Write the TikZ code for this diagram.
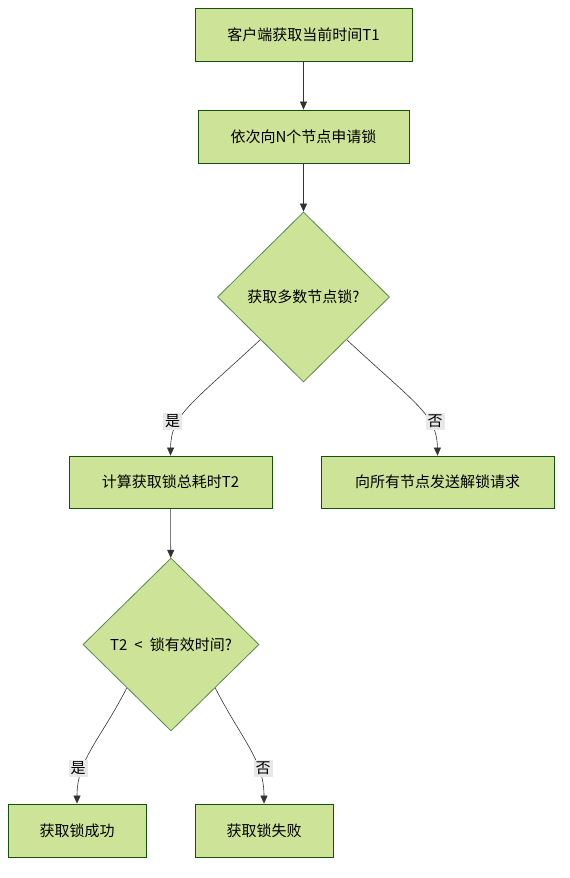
\documentclass[tikz,border=0pt]{standalone}
\usepackage{fontspec}
\setmainfont{Noto Sans CJK SC}
\usetikzlibrary{shapes.geometric,arrows.meta}
\definecolor{boxfill}{HTML}{CDE498}
\definecolor{boxline}{HTML}{13540C}
\definecolor{lblbg}{HTML}{E8E8E8}
\begin{document}
\begin{tikzpicture}[x=1pt,y=-1pt,
	every node/.style={align=center,font=\fontsize{15pt}{18pt}\selectfont},
	box/.style={draw=boxline,fill=boxfill,line width=0.8pt,minimum height=53pt,inner sep=0pt},
	decision/.style={diamond,draw=boxline!70,fill=boxfill,line width=0.8pt,minimum width=172pt,minimum height=170pt,inner sep=0pt},
	flow/.style={-{Triangle[length=8pt,width=7pt]},draw=black!80,line width=0.6pt},
	lbl/.style={fill=lblbg,inner sep=2pt}]
\useasboundingbox (0,0) rectangle (570,878);
\node[box,minimum width=217pt] (start) at (303.5,34.5) {客户端获取当前时间T1};
\node[box,minimum width=211pt] (ask) at (303.5,136.5) {依次向N个节点申请锁};
\node[decision] (major) at (303.5,297) {获取多数节点锁?};
\node[box,minimum width=203pt,minimum height=52pt] (cost) at (170.5,482) {计算获取锁总耗时T2};
\node[box,minimum width=233pt,minimum height=52pt] (unlock) at (437.5,482) {向所有节点发送解锁请求};
\node[decision,minimum width=176pt,minimum height=173pt] (valid) at (171,644.5) {T2\hspace{7pt}<\hspace{7pt}锁有效时间?};
\node[box,minimum width=138pt] (ok) at (77,830.5) {获取锁成功};
\node[box,minimum width=138pt] (fail) at (264,830.5) {获取锁失败};
% edges
\draw[flow] (start) -- (ask);
\draw[flow] (ask) -- (major);
\draw[flow] (major.south west) .. controls (190,405) and (171,415) .. (cost.north)
	node[lbl,pos=0.66,xshift=-6pt] {是};
\draw[flow] (major.south east) .. controls (417,405) and (437,415) .. (unlock.north)
	node[lbl,pos=0.66,xshift=6pt] {否};
\draw[flow] (cost) -- (valid);
\draw[flow] (valid.south west) .. controls (100,740) and (77,760) .. (ok.north)
	node[lbl,pos=0.69,xshift=-5pt] {是};
\draw[flow] (valid.south east) .. controls (242,740) and (264,760) .. (fail.north)
	node[lbl,pos=0.69,xshift=5pt] {否};
\end{tikzpicture}
\end{document}
